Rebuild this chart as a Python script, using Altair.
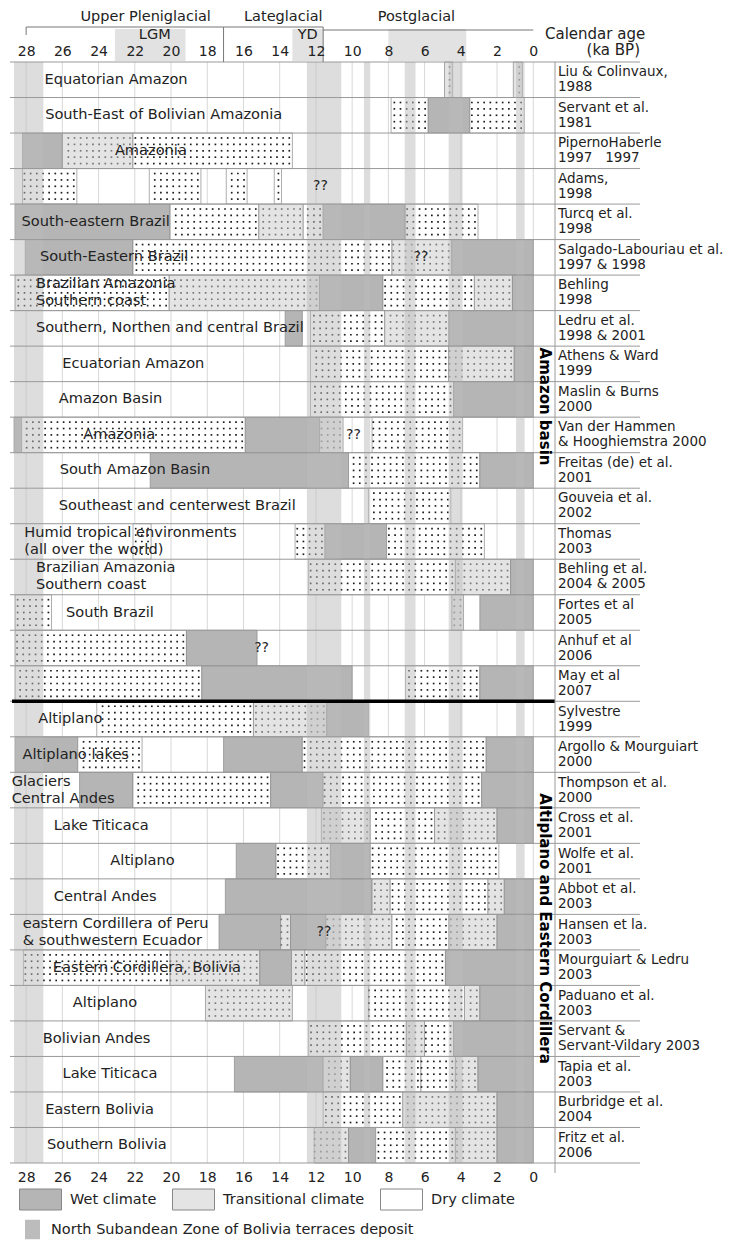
import altair as alt
import pandas as pd

# ---------------- data ----------------
ticks = [28, 26, 24, 22, 20, 18, 16, 14, 12, 10, 8, 6, 4, 2, 0]

study_refs = [
    "Liu & Colinvaux,\n1988", "Servant et al.\n1981", "PipernoHaberle\n1997\u00a0\u00a0\u00a01997", "Adams,\n1998",
    "Turcq et al.\n1998", "Salgado-Labouriau et al.\n1997 & 1998", "Behling\n1998", "Ledru et al.\n1998 & 2001",
    "Athens & Ward\n1999", "Maslin & Burns\n2000", "Van der Hammen\n& Hooghiemstra 2000", "Freitas (de) et al.\n2001",
    "Gouveia et al.\n2002", "Thomas\n2003", "Behling et al.\n2004 & 2005", "Fortes et al\n2005",
    "Anhuf et al\n2006", "May et al\n2007", "Sylvestre\n1999", "Argollo & Mourguiart\n2000",
    "Thompson et al.\n2000", "Cross et al.\n2001", "Wolfe et al.\n2001", "Abbot et al.\n2003",
    "Hansen et la.\n2003", "Mourguiart & Ledru\n2003", "Paduano et al.\n2003", "Servant &\nServant-Vildary 2003",
    "Tapia et al.\n2003", "Burbridge et al.\n2004", "Fritz et al.\n2006",
]

seg_row = [0, 0, 1, 1, 1, 2, 2, 2, 3, 3, 3, 3, 4, 4, 4, 4, 4, 4, 5, 5, 5, 5, 6, 6, 6, 6, 6, 6,
           7, 7, 7, 7, 8, 8, 8, 9, 9, 10, 10, 10, 10, 10, 11, 11, 11, 12, 13, 13, 13, 13,
           14, 14, 14, 15, 15, 15, 16, 16, 17, 17, 17, 17, 18, 18, 18, 19, 19, 19, 19, 19,
           20, 20, 20, 20, 20, 21, 21, 21, 21, 22, 22, 22, 22, 23, 23, 23, 23, 23,
           24, 24, 24, 24, 24, 24, 24, 25, 25, 25, 25, 25, 25, 26, 26, 26, 26, 27, 27, 27, 27,
           28, 28, 28, 28, 28, 28, 28, 29, 29, 29, 30, 30, 30, 30, 30]
seg_start = [4.9, 1.1, 7.85, 5.8, 3.5, 28.2, 26.0, 22.1, 28.2, 21.2, 16.95, 14.3,
             28.6, 20.05, 15.15, 12.7, 11.6, 7.05, 28.05, 22.1, 7.8, 4.5, 28.6, 20.1, 11.8, 8.3, 3.25, 1.15,
             13.7, 12.3, 8.2, 4.65, 12.3, 4.67, 1.05, 12.3, 4.4, 28.67, 28.25, 15.9, 11.8, 8.9,
             21.15, 10.2, 2.95, 9.1, 22.1, 13.15, 11.5, 8.1, 12.4, 4.3, 1.25, 28.6, 4.5, 2.95,
             28.6, 19.15, 28.6, 18.3, 7.05, 2.95, 24.1, 15.45, 11.4, 28.6, 25.15, 17.1, 12.75, 2.6,
             25.05, 22.1, 14.5, 11.6, 2.85, 11.7, 9.0, 5.45, 2.0, 16.4, 14.2, 11.2, 9.0,
             17.0, 8.9, 7.9, 2.5, 1.6, 17.35, 13.95, 13.4, 11.45, 7.8, 4.65, 2.0,
             28.15, 20.05, 15.1, 13.35, 12.6, 4.85, 18.1, 9.1, 3.8, 2.95, 12.4, 7.0, 6.0, 4.4,
             16.5, 11.6, 10.1, 8.3, 6.2, 4.3, 3.05, 11.6, 7.2, 2.0, 12.1, 10.2, 8.7, 4.3, 2.0]
seg_end = [4.45, 0.6, 5.8, 3.5, 0.5, 26.0, 22.1, 13.3, 25.2, 18.35, 15.8, 13.9,
           20.05, 15.15, 12.7, 11.6, 7.1, 3.05, 22.1, 7.8, 4.5, 0.0, 20.1, 11.8, 8.3, 3.25, 1.15, 0.0,
           12.75, 8.2, 4.65, 0.0, 4.67, 1.05, 0.0, 4.4, 0.0, 28.25, 15.9, 11.8, 10.5, 3.9,
           10.2, 2.95, 0.0, 4.55, 21.1, 11.5, 8.1, 2.7, 4.3, 1.25, 0.0, 26.6, 3.85, 0.0,
           19.15, 15.25, 18.3, 10.0, 2.95, 0.0, 15.45, 11.4, 9.1, 25.15, 21.6, 12.75, 2.6, 0.0,
           22.1, 14.5, 11.6, 2.85, 0.0, 9.0, 5.45, 2.0, 0.0, 14.2, 11.2, 9.0, 1.9,
           8.9, 7.9, 2.5, 1.6, 0.0, 13.95, 13.4, 11.45, 7.8, 4.65, 2.0, 0.0,
           20.05, 15.1, 13.35, 12.6, 4.85, 0.0, 13.3, 3.8, 2.95, 0.0, 7.0, 6.0, 4.4, 0.0,
           11.6, 10.1, 8.3, 6.2, 4.3, 3.05, 0.0, 7.2, 2.0, 0.0, 10.2, 8.7, 4.3, 2.0, 0.0]
seg_kind = ["T", "T", "D", "W", "D", "W", "T", "D", "D", "D", "D", "D",
            "W", "D", "T", "D", "W", "D", "W", "D", "T", "W", "D", "T", "W", "D", "T", "W",
            "W", "D", "T", "W", "D", "T", "W", "D", "W", "W", "D", "W", "T", "D",
            "W", "D", "W", "D", "D", "D", "W", "D", "D", "T", "W", "D", "T", "W",
            "D", "W", "D", "W", "D", "W", "D", "T", "W", "W", "D", "W", "D", "W",
            "W", "D", "W", "D", "W", "T", "D", "T", "W", "W", "D", "W", "D",
            "W", "T", "D", "T", "W", "W", "T", "W", "T", "D", "T", "W",
            "D", "T", "W", "T", "D", "W", "T", "D", "T", "W", "D", "T", "D", "W",
            "W", "T", "W", "D", "D", "T", "W", "D", "T", "W", "T", "W", "D", "T", "W"]

left_row = [0, 1, 2, 4, 5, 6, 7, 8, 9, 10, 11, 12, 13, 14, 15,
            18, 19, 20, 21, 22, 23, 24, 25, 26, 27, 28, 29, 30]
left_x = [26.99, 26.95, 23.1, 28.25, 27.24, 27.46, 27.46, 26.0, 26.2, 24.85, 26.15, 26.2, 28.1, 27.46, 25.8,
          27.33, 28.2, 28.8, 26.47, 23.35, 26.47, 28.19, 26.53, 25.42, 27.08, 25.99, 26.95, 26.85]
left_text = ["Equatorian Amazon", "South-East of Bolivian Amazonia", "Amazonia", "South-eastern Brazil",
             "South-Eastern Brazil", "Brazilian Amazonia\nSouthern coast", "Southern, Northen and central Brazil",
             "Ecuatorian Amazon", "Amazon Basin", "Amazonia", "South Amazon Basin",
             "Southeast and centerwest Brazil", "Humid tropical environments\n(all over the world)",
             "Brazilian Amazonia\nSouthern coast", "South Brazil",
             "Altiplano", "Altiplano lakes", "Glaciers\nCentral Andes", "Lake Titicaca", "Altiplano",
             "Central Andes", "eastern Cordillera of Peru\n& southwestern Ecuador", "Eastern Cordillera, Bolivia",
             "Altiplano", "Bolivian Andes", "Lake Titicaca", "Eastern Bolivia", "Southern Bolivia"]

q_row = [3, 5, 10, 16, 24]
q_x = [11.75, 6.2, 9.93, 15.0, 11.56]

band_start = [28.67, 12.5, 9.35, 7.1, 4.67, 0.95]
band_end = [27.05, 10.6, 9.0, 6.5, 3.9, 0.48]

hdr_start = [23.1, 13.3, 8.0]
hdr_end = [19.2, 11.6, 3.7]

period_names = ["Upper Pleniglacial", "Lateglacial", "Postglacial"]
period_x = [21.4, 13.8, 6.45]
period_from = [28.0, 17.1, 11.6]
period_to = [17.1, 11.6, 0.0]
sub_names = ["LGM", "YD"]
sub_x = [20.9, 12.45]

group_names = ["Amazon basin", "Altiplano and Eastern Cordillera"]
group_pos = [9.7, 24.4]

climate_names = ["Wet climate", "Transitional climate", "Dry climate"]
climate_fill = ["#b5b5b5", "#e4e4e4", "#ffffff"]
terrace_name = ["North Subandean Zone of Bolivia terraces deposit"]

# ---------------- frames ----------------
kind_map = {"W": climate_names[0], "T": climate_names[1], "D": climate_names[2]}
assert len(seg_row) == len(seg_start) == len(seg_end) == len(seg_kind)
seg = pd.DataFrame({"row": seg_row, "start": seg_start, "end": seg_end,
                    "climate": [kind_map[k] for k in seg_kind]})
seg["row2"] = seg["row"] + 1

left_df = pd.DataFrame({"yc": [r + 0.5 for r in left_row], "x": left_x, "t": left_text})
left_df["multi"] = left_df["t"].str.contains("\n")
q_df = pd.DataFrame({"yc": [r + 0.5 for r in q_row], "x": q_x, "t": ["??"] * len(q_row)})
right_df = pd.DataFrame({"yc": [i + 0.5 for i in range(len(study_refs))], "t": study_refs})
band_df = pd.DataFrame({"a": band_start, "b": band_end, "name": terrace_name * len(band_start)})
hdr_df = pd.DataFrame({"a": hdr_start, "b": hdr_end})
per_df = pd.DataFrame({"x": period_x, "t": period_names, "a": period_from, "b": period_to})
sub_df = pd.DataFrame({"x": sub_x, "t": sub_names})
grp_df = pd.DataFrame({"yc": group_pos, "t": group_names})
tick_df = pd.DataFrame({"t": ticks})
sep_df = pd.DataFrame({"b": list(range(len(study_refs) + 1))})

W, H = 541, 1101
FONT = "DejaVu Sans"
TXT = "#222222"
xs = alt.Scale(domain=[28.67, -1.2], nice=False, zero=False)
ys = alt.Scale(domain=[31, 0], nice=False, zero=False)

# ---------------- layers ----------------
grid = alt.Chart(tick_df).mark_rule(color="#d8d8d8", strokeWidth=1).encode(
    x=alt.X("t:Q", scale=xs, axis=alt.Axis(orient="top", values=ticks, grid=False, ticks=False, domain=False,
                                           labelFont=FONT, labelFontSize=14, labelColor=TXT, labelPadding=4,
                                           labelFlush=False, labelOverlap=False, title=None, zindex=1))
)

hdr = alt.Chart(hdr_df).mark_rect(color="#e2e2e2").encode(
    x=alt.X("a:Q", scale=xs, axis=None), x2="b:Q", y=alt.value(-33), y2=alt.value(-1))

bars = alt.Chart(seg).mark_rect(stroke="#8a8a8a", strokeWidth=0.7).encode(
    x=alt.X("start:Q", scale=xs, axis=alt.Axis(orient="bottom", values=ticks, grid=False, ticks=False, domain=False,
                                               labelFont=FONT, labelFontSize=14, labelColor=TXT, labelPadding=7,
                                               labelFlush=False, labelOverlap=False, title=None, zindex=1)),
    x2="end:Q",
    y=alt.Y("row:Q", scale=ys, axis=None),
    y2="row2:Q",
    fill=alt.Fill("climate:N", scale=alt.Scale(domain=climate_names, range=climate_fill),
                  legend=alt.Legend(title=None, orient="none", legendX=5, legendY=1116, direction="horizontal",
                                    symbolType="M-1,-0.5L1,-0.5L1,0.5L-1,0.5Z", symbolSize=1764,
                                    symbolStrokeColor="#888888", symbolStrokeWidth=1, symbolOpacity=1,
                                    labelFont=FONT, labelFontSize=14.5, labelColor=TXT, labelOffset=8,
                                    labelLimit=0, columnPadding=13, padding=0)),
)

dots = alt.Chart(seg).transform_filter(
    "datum.climate != 'Wet climate'"
).transform_calculate(
    xs="sequence(datum.end + 0.17, datum.start, 0.34)",
    yo="[0.14, 0.32, 0.5, 0.68, 0.86]",
).transform_flatten(["xs"]).transform_flatten(["yo"]).transform_calculate(
    yy="datum.row + datum.yo"
).mark_square(size=2.8, opacity=1).encode(
    x=alt.X("xs:Q", scale=xs, axis=None),
    y=alt.Y("yy:Q", scale=ys, axis=None),
    color=alt.Color("climate:N", scale=alt.Scale(domain=climate_names[1:], range=["#777777", "#1a1a1a"]),
                    legend=None),
)

bands = alt.Chart(band_df).mark_rect(opacity=0.5).encode(
    x=alt.X("a:Q", scale=xs, axis=None), x2="b:Q",
    y=alt.value(0), y2=alt.value(H),
    fill=alt.Fill("name:N", scale=alt.Scale(range=["#bcbcbc"]),
                  legend=alt.Legend(title=None, orient="none", legendX=11, legendY=1160,
                                    symbolType="M-1,-1.3L1,-1.3L1,1.3L-1,1.3Z", symbolSize=225,
                                    symbolStrokeWidth=0, symbolOpacity=1,
                                    labelFont=FONT, labelFontSize=14.5, labelColor=TXT, labelOffset=11,
                                    labelLimit=0, padding=0)),
)

seps = alt.Chart(sep_df).mark_rule(color="#9a9a9a", strokeWidth=1).encode(
    y=alt.Y("b:Q", scale=ys, axis=None), x=alt.value(-4), x2=alt.value(626))

thick = alt.Chart(pd.DataFrame({"b": [18]})).mark_rule(color="#000000", strokeWidth=3.5).encode(
    y=alt.Y("b:Q", scale=ys, axis=None), x=alt.value(-2), x2=alt.value(W))

divider = alt.Chart(pd.DataFrame({"a": [0]})).mark_rule(color="#9a9a9a", strokeWidth=1).encode(
    x=alt.value(W), y=alt.value(0), y2=alt.value(H + 10))

left_single = alt.Chart(left_df).transform_filter("!datum.multi").mark_text(
    align="left", baseline="middle", font=FONT, fontSize=14.6, color=TXT).encode(
    x=alt.X("x:Q", scale=xs, axis=None), y=alt.Y("yc:Q", scale=ys, axis=None), text="t:N")

left_multi = alt.Chart(left_df).transform_filter("datum.multi").mark_text(
    align="left", baseline="middle", font=FONT, fontSize=14.6, lineBreak="\n", lineHeight=17,
    dy=-8.5, color=TXT).encode(
    x=alt.X("x:Q", scale=xs, axis=None), y=alt.Y("yc:Q", scale=ys, axis=None), text="t:N")

q_txt = alt.Chart(q_df).mark_text(align="center", baseline="middle", font=FONT, fontSize=14, color=TXT).encode(
    x=alt.X("x:Q", scale=xs, axis=None), y=alt.Y("yc:Q", scale=ys, axis=None), text="t:N")

right_txt = alt.Chart(right_df).mark_text(align="left", baseline="middle", font=FONT, fontSize=13.5,
                                          lineBreak="\n", lineHeight=15, dy=-7.5, color=TXT).encode(
    x=alt.value(W + 3), y=alt.Y("yc:Q", scale=ys, axis=None), text="t:N")

grp_txt = alt.Chart(grp_df).mark_text(align="center", baseline="middle", font=FONT, fontSize=15,
                                      fontWeight="bold", angle=90, color="#000000").encode(
    x=alt.value(W - 10), y=alt.Y("yc:Q", scale=ys, axis=None), text="t:N")

per_lines = alt.Chart(per_df.iloc[:2]).mark_rule(color="#777777", strokeWidth=1).encode(
    x=alt.X("a:Q", scale=xs, axis=None), x2="b:Q", y=alt.value(-35))
post_line = alt.Chart(per_df.iloc[2:]).mark_rule(color="#777777", strokeWidth=1).encode(
    x=alt.X("a:Q", scale=xs, axis=None), x2="b:Q", y=alt.value(-32))
first_tick = alt.Chart(per_df.iloc[:1]).mark_rule(color="#777777", strokeWidth=1).encode(
    x=alt.X("a:Q", scale=xs, axis=None), y=alt.value(-35), y2=alt.value(-27))
dividers = alt.Chart(per_df.iloc[1:]).mark_rule(color="#777777", strokeWidth=1).encode(
    x=alt.X("a:Q", scale=xs, axis=None), y=alt.value(-35), y2=alt.value(0))

per_txt = alt.Chart(per_df).mark_text(align="center", baseline="middle", font=FONT, fontSize=14.5,
                                      color=TXT).encode(
    x=alt.X("x:Q", scale=xs, axis=None), y=alt.value(-45), text="t:N")
sub_txt = alt.Chart(sub_df).mark_text(align="center", baseline="middle", font=FONT, fontSize=14.5,
                                      color=TXT).encode(
    x=alt.X("x:Q", scale=xs, axis=None), y=alt.value(-27), text="t:N")
cal_txt = alt.Chart(pd.DataFrame({"t": ["Calendar age"]})).mark_text(
    align="left", baseline="middle", font=FONT, fontSize=15, color=TXT).encode(
    x=alt.value(W - 10), y=alt.value(-28), text="t:N")
ka_txt = alt.Chart(pd.DataFrame({"t": ["(ka BP)"]})).mark_text(
    align="right", baseline="middle", font=FONT, fontSize=15, color=TXT).encode(
    x=alt.value(626), y=alt.value(-12), text="t:N")

chart = alt.layer(
    grid, hdr, bars, dots, bands, seps, thick, divider,
    left_single, left_multi, q_txt, right_txt, grp_txt,
    per_lines, post_line, first_tick, dividers, per_txt, sub_txt, cal_txt, ka_txt,
).resolve_scale(fill="independent", color="independent").resolve_axis(x="independent").properties(
    width=W, height=H,
    autosize=alt.AutoSizeParams(type="none"),
    padding={"left": 6, "top": 54, "right": 177, "bottom": 80},
    background="#ffffff",
).configure_view(stroke=None)

chart.save("out.html", embed_options={"renderer": "svg", "actions": False})
